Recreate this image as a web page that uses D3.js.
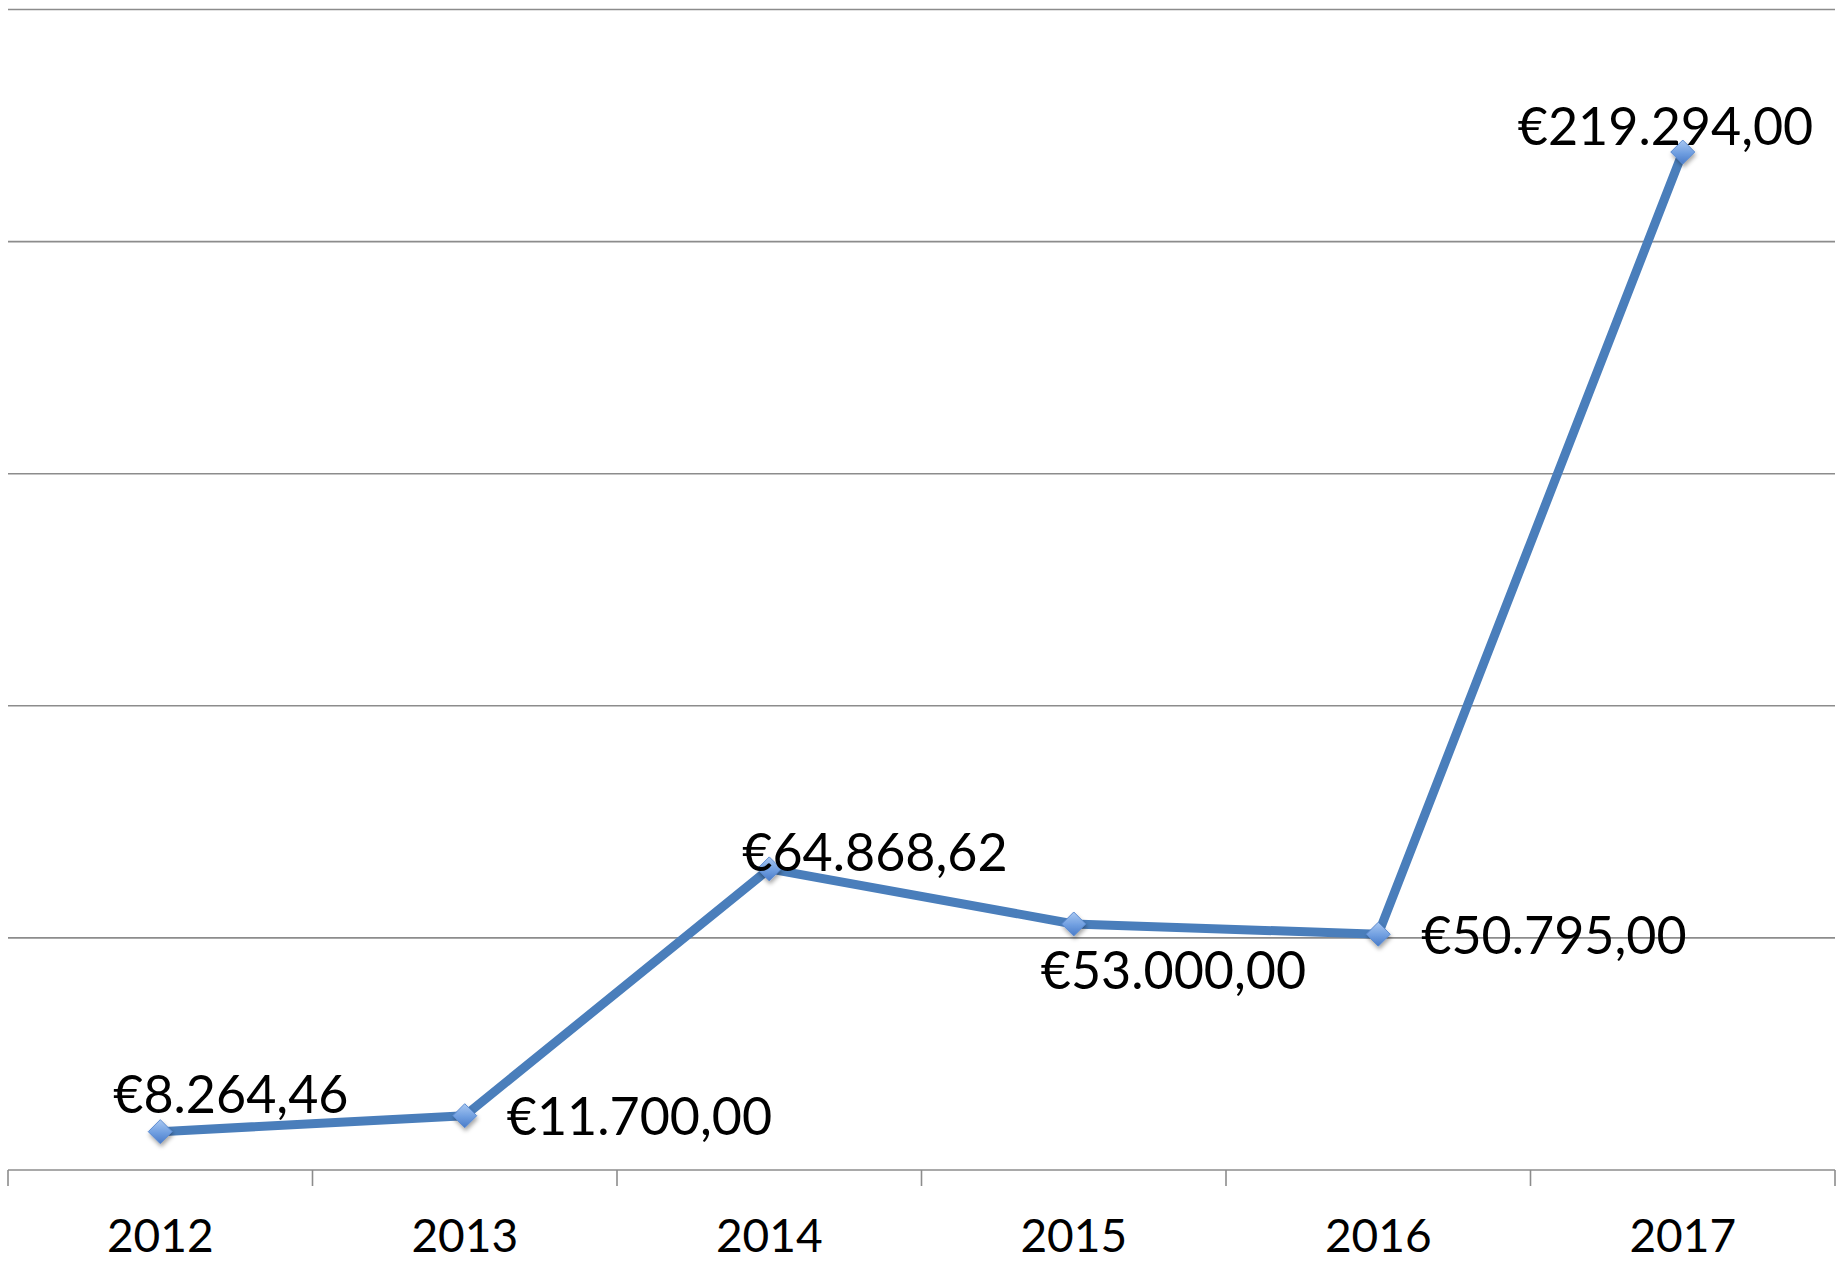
<!DOCTYPE html>
<html lang="en">
  <head>
    <meta charset="utf-8">
    <title>Chart</title>
    <style>
      body { margin: 0; background: #fff; }
      text { font-family: Lato, "Open Sans", sans-serif; fill: #000; }
    </style>
  </head>
  <body>
    <div id="chart"></div>
    <script src="https://cdn.jsdelivr.net/npm/d3@7/dist/d3.min.js"></script>
    <script type="text/javascript">
    (function(d3) {
      'use strict';

      var years = ['2012', '2013', '2014', '2015', '2016', '2017'];
      var amounts = [8264.46, 11700, 64868.62, 53000, 50795, 219294];
      var gridValues = [0, 50000, 100000, 150000, 200000, 250000];

      // label placement relative to the marker (left edge, baseline)
      var labelDx = [-47, 42, -27, -33, 43, -165];
      var labelDy = [-19, 19, 2, 65, 20, -7];

      var width = 1840;
      var height = 1262;
      var left = 8, right = 1835, top = 9.5, bottom = 1170;

      var fmt = function(v) {
        var parts = v.toFixed(2).split('.');
        var whole = parts[0].replace(/\B(?=(\d{3})+(?!\d))/g, '.');
        return '\u20ac' + whole + ',' + parts[1];
      };

      var svg = d3.select('#chart')
        .append('svg')
        .attr('width', width)
        .attr('height', height);

      var defs = svg.append('defs');
      var grad = defs.append('linearGradient')
        .attr('id', 'mk')
        .attr('x1', 0).attr('y1', 0).attr('x2', 0).attr('y2', 1);
      grad.append('stop').attr('offset', '0%').attr('stop-color', '#a9c8f2');
      grad.append('stop').attr('offset', '55%').attr('stop-color', '#6f9ee0');
      grad.append('stop').attr('offset', '100%').attr('stop-color', '#4a7bc8');
      var shadow = defs.append('filter').attr('id', 'sh')
        .attr('x', '-50%').attr('y', '-50%').attr('width', '200%').attr('height', '200%');
      shadow.append('feDropShadow')
        .attr('dx', 1).attr('dy', 3).attr('stdDeviation', 2)
        .attr('flood-color', '#000').attr('flood-opacity', 0.35);

      var x = d3.scaleBand().domain(years).range([left, right]);
      var y = d3.scaleLinear().domain([0, 250000]).range([bottom, top]);

      // gridlines
      svg.append('g').selectAll('line')
        .data(gridValues.slice(1))
        .enter()
        .append('line')
        .attr('x1', left).attr('x2', right)
        .attr('y1', function(d) { return y(d); })
        .attr('y2', function(d) { return y(d); })
        .attr('stroke', '#8c8c8c')
        .attr('stroke-width', 1.6);

      // x axis
      var xAxis = svg.append('g')
        .attr('transform', 'translate(0,' + bottom + ')');
      xAxis.append('line')
        .attr('x1', left).attr('x2', right)
        .attr('stroke', '#8c8c8c').attr('stroke-width', 1.6);
      xAxis.selectAll('line.tick')
        .data(years.concat(['end']))
        .enter()
        .append('line')
        .attr('class', 'tick')
        .attr('x1', function(d, i) { return i < years.length ? x(d) : right; })
        .attr('x2', function(d, i) { return i < years.length ? x(d) : right; })
        .attr('y1', 0).attr('y2', 16)
        .attr('stroke', '#8c8c8c').attr('stroke-width', 1.6);
      xAxis.selectAll('text')
        .data(years)
        .enter()
        .append('text')
        .attr('x', function(d) { return x(d) + x.bandwidth() / 2; })
        .attr('y', 82)
        .attr('text-anchor', 'middle')
        .style('font-size', '46px')
        .text(function(d) { return d; });

      var cx = function(i) { return x(years[i]) + x.bandwidth() / 2; };

      var line = d3.line()
        .x(function(d, i) { return cx(i); })
        .y(function(d) { return y(d); });

      svg.append('path')
        .datum(amounts)
        .attr('d', line)
        .attr('fill', 'none')
        .attr('stroke', '#4a7ebb')
        .attr('stroke-width', 9)
        .attr('stroke-linejoin', 'round');

      svg.append('g').selectAll('path')
        .data(amounts)
        .enter()
        .append('path')
        .attr('d', 'M0,-12L12,0L0,12L-12,0Z')
        .attr('transform', function(d, i) {
          return 'translate(' + cx(i) + ',' + y(d) + ')';
        })
        .attr('fill', 'url(#mk)')
        .attr('stroke', '#5a8ad0')
        .attr('stroke-width', 1)
        .attr('filter', 'url(#sh)');

      svg.append('g').selectAll('text')
        .data(amounts)
        .enter()
        .append('text')
        .attr('x', function(d, i) { return cx(i) + labelDx[i]; })
        .attr('y', function(d, i) { return y(d) + labelDy[i]; })
        .style('font-size', '52px')
        .text(function(d) { return fmt(d); });

    })(window.d3);
    </script>
  </body>
</html>
